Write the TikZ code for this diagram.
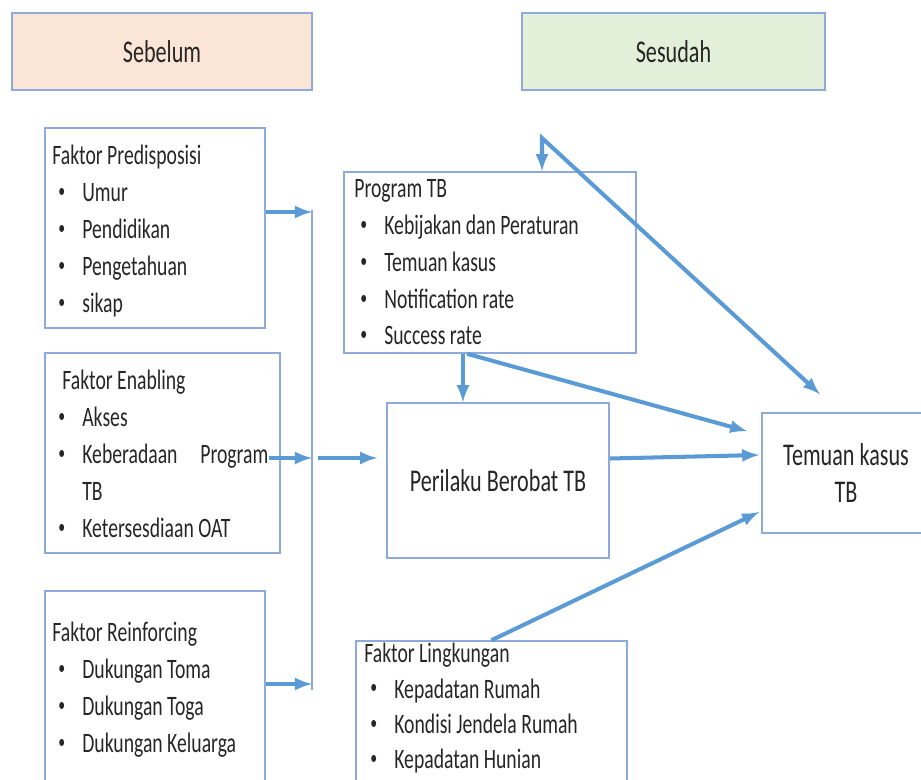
\documentclass[tikz,border=0pt]{standalone}
\usepackage{fontspec}
\setmainfont{Carlito}[FakeStretch=0.70]
\usetikzlibrary{arrows, positioning, calc}

\definecolor{boxline}{HTML}{8EAADB}
\definecolor{flow}{HTML}{5B9BD5}
\definecolor{txt}{HTML}{262626}
\definecolor{before}{HTML}{FBE5D6}
\definecolor{after}{HTML}{E2F0D9}

\newcommand{\bul}[1]{\hspace*{0.12cm}\makebox[0.48cm][l]{\raisebox{0.3ex}{\scalebox{0.7}{\textbullet}}}#1}

\begin{document}
\begin{tikzpicture}[
    x=0.02cm, y=-0.02cm,
    frame/.style={rectangle, draw=boxline, line width=0.9pt, inner sep=0pt},
    header/.style={frame, minimum height=1.54cm, text=txt, font=\fontsize{18}{22}\selectfont},
    listtext/.style={anchor=north west, inner sep=0pt, align=left, text=txt, font=\fontsize{16}{21}\selectfont},
    bus/.style={draw=boxline, line width=1.2pt},
    arrow/.style={line width=2.3pt, draw=flow, ->, >=latex}
]
    \useasboundingbox (0,0) rectangle (921,779);
    \clip (0,0) rectangle (921,779);

    % headers
    \node[header, fill=before, minimum width=6cm] (sebelum) at (162,51.5) {Sebelum};
    \node[header, fill=after, minimum width=6.06cm] (sesudah) at (673.5,51.5) {Sesudah};

    % boxes
    \node[frame, minimum width=4.4cm, minimum height=4cm] (pred) at (155,228) {};
    \node[frame, minimum width=4.7cm, minimum height=4cm] (enab) at (162.5,453) {};
    \node[frame, minimum width=4.4cm, minimum height=4.18cm] (reinf) at (155,695.5) {};
    \node[frame, minimum width=5.84cm, minimum height=3.62cm] (prog) at (490,262.5) {};
    \node[frame, minimum width=5.42cm, minimum height=3.18cm] (lingk) at (491.5,720.5) {};
    \node[frame, minimum width=4.44cm, minimum height=3.1cm, text=txt,
          font=\fontsize{18}{22}\selectfont] (peril) at (498,480.5) {Perilaku Berobat TB};
    \node[frame, minimum width=3.36cm, minimum height=2.4cm, align=center, text=txt,
          font=\fontsize{18}{21.5}\selectfont] (temuan) at (846,473) {Temuan kasus\\TB};

    % box texts
    \node[listtext] (predtext) at (52,145) {Faktor Predisposisi\\
        \bul{Umur}\\ \bul{Pendidikan}\\ \bul{Pengetahuan}\\ \bul{sikap}};
    \node[listtext] (enabtext) at (52,370) {\hspace*{0.2cm}Faktor Enabling\\
        \bul{Akses}\\ \bul{\makebox[3.72cm][s]{Keberadaan Program}}\\
        \hspace*{0.6cm}TB\\ \bul{Ketersesdiaan OAT}};
    \node[listtext] (reinftext) at (52,622) {Faktor Reinforcing\\
        \bul{Dukungan Toma}\\ \bul{Dukungan Toga}\\ \bul{Dukungan Keluarga}};
    \node[listtext] (progtext) at (354,179) {Program TB\\
        \bul{Kebijakan dan Peraturan}\\ \bul{Temuan kasus}\\
        \bul{Notification rate}\\ \bul{Success rate}};
    \node[listtext, font=\fontsize{16}{20}\selectfont] (lingktext) at (364,643) {Faktor Lingkungan\\
        \bul{Kepadatan Rumah}\\ \bul{Kondisi Jendela Rumah}\\ \bul{Kepadatan Hunian}};

    % bus on the left
    \coordinate (b1) at (312,212);
    \coordinate (b2) at (312,458);
    \coordinate (b3) at (312,684);
    \draw[bus] ($(b1)+(0,-2)$) -- ($(b3)+(0,6)$);

    \draw[arrow] (pred.east |- b1) -- (b1);
    \draw[arrow] ($(enab.east |- b2)+(-12,0)$) -- (b2);
    \draw[arrow] (reinf.east |- b3) -- (b3);
    \draw[arrow, shorten >=0.18cm] ($(b2)+(6,0)$) -- (peril.west |- b2);

    % flows to the right
    \coordinate (pv) at (463,0);
    \draw[arrow] (prog.south -| pv) -- (peril.north -| pv);
    \draw[arrow] ($(prog.south)+(-23,0)$) -- ($(temuan.north west)+(-14,19)$);
    \draw[arrow] ($(peril.east)+(0,-22)$) -- ($(temuan.west)+(-2,-18)$);
    \draw[arrow] (lingk.north) -- ($(temuan.west)+(-2,39)$);

    \coordinate (apex) at (542,138);
    \draw[arrow, <->] (prog.north -| apex) -- (apex) -- ($(temuan.north)+(-26,-18)$);
\end{tikzpicture}
\end{document}
